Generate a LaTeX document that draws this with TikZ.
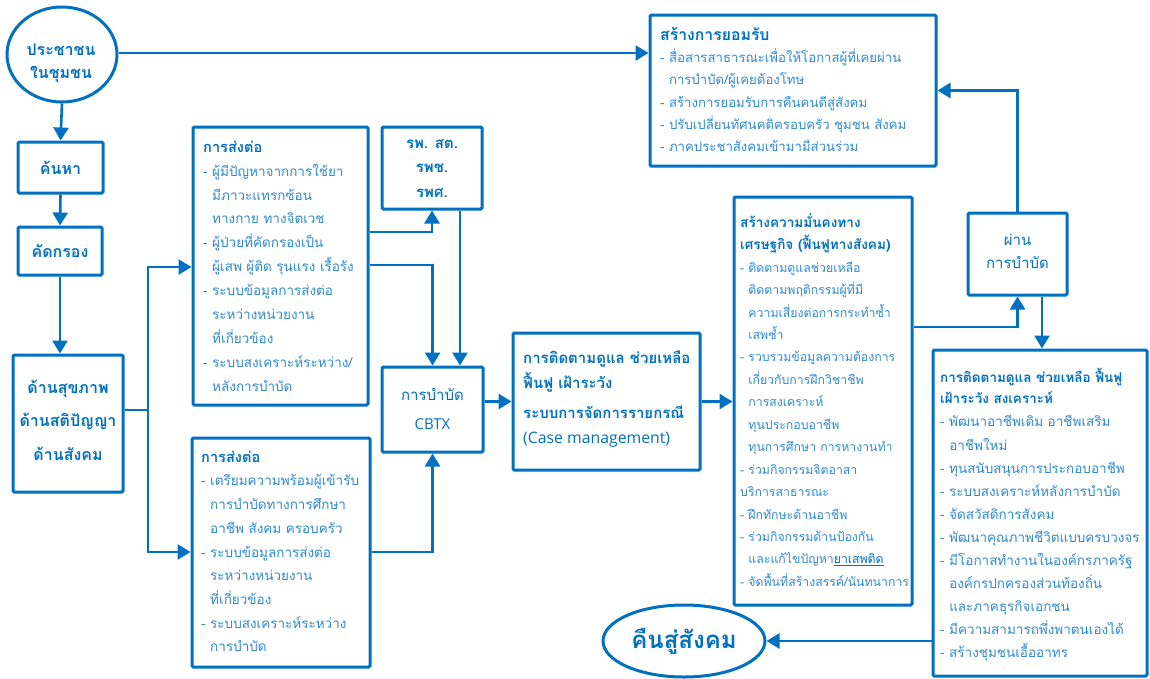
\documentclass[tikz,border=0pt]{standalone}
\usepackage{fontspec}
\setmainfont[Script=Thai]{Loma}
\newfontfamily\latinfont{Open Sans}
\usetikzlibrary{arrows.meta,fit,shapes.geometric}
\definecolor{flow}{RGB}{0,112,192}
\definecolor{ink}{RGB}{48,138,206}
% strut fixing the height of the first line of a text block
\newcommand\firstln{\rule{0pt}{18pt}}
% indent of a continued bullet line
\newcommand\bulletpad{\hphantom{-\ }}
% heading line of a box, optional size switch
\newcommand\hd[2][]{{\color{flow}\bfseries#1#2}}
\newcommand\bigsize{\fontsize{14.6}{20}\selectfont}
\begin{document}
\begin{tikzpicture}[x=1pt,y=-1pt,
  box/.style={draw=flow, line width=3pt, rounded corners=1.2pt, inner sep=0pt},
  oval/.style={draw=flow, line width=3pt, ellipse, inner sep=0pt},
  conn/.style={draw=flow, line width=2.6pt, -{Triangle[length=13pt,width=15pt]}},
  body/.style={anchor=north west, yshift=18pt, inner sep=0pt, align=left, text=ink,
    font=\fontsize{13.5}{#1}\selectfont},
  body/.default=23.5,
  label/.style={align=center, text=flow, font=\fontsize{16}{#1}\selectfont\bfseries},
  label/.default=24,
]
\useasboundingbox (0,0) rectangle (1150,678);

% ---------- left column ----------
\node[oval, minimum width=110pt, minimum height=95pt] (people) at (62,54.5) {};
\node[label=23, anchor=north, yshift=18pt, inner sep=0pt] (peopletext) at (61,55)
  {\firstln ประชาชน\\ในชุมชน};
\node[box, minimum width=85pt, minimum height=51pt, label] (find) at (60.5,167.5) {ค้นหา};
\node[box, minimum width=84pt, minimum height=48pt, label] (screen) at (60,251) {คัดกรอง};
\node[box, fit={(13,355) (123,492)}] (aspects) {};
\node[label=33.5, anchor=north, yshift=18pt, inner sep=0pt] (aspectstext) at (68,393)
  {\firstln ด้านสุขภาพ\\ด้านสติปัญญา\\ด้านสังคม};

% ---------- referral boxes ----------
\node[box, fit={(193,127) (368,405)}] (refA) {};
\node[body=23.9] (refAtext) at (203,152) {\firstln\hd[\bigsize]{การส่งต่อ}\\
- ผู้มีปัญหาจากการใช้ยา\\
\bulletpad มีภาวะแทรกซ้อน\\
\bulletpad ทางกาย ทางจิตเวช\\
- ผู้ป่วยที่คัดกรองเป็น\\
\bulletpad ผู้เสพ ผู้ติด รุนแรง เรื้อรัง\\
- ระบบข้อมูลการส่งต่อ\\
\bulletpad ระหว่างหน่วยงาน\\
\bulletpad ที่เกี่ยวข้อง\\
- ระบบสงเคราะห์ระหว่าง/\\
\bulletpad หลังการบำบัด};

\node[box, fit={(192,438) (370,667)}] (refB) {};
\node[body=23.7] (refBtext) at (201,462) {\firstln\hd[\bigsize]{การส่งต่อ}\\
- เตรียมความพร้อมผู้เข้ารับ\\
\bulletpad การบำบัดทางการศึกษา\\
\bulletpad อาชีพ สังคม ครอบครัว\\
- ระบบข้อมูลการส่งต่อ\\
\bulletpad ระหว่างหน่วยงาน\\
\bulletpad ที่เกี่ยวข้อง\\
- ระบบสงเคราะห์ระหว่าง\\
\bulletpad การบำบัด};

% ---------- hospitals and treatment ----------
\node[box, fit={(382,127) (482,209)}] (hosp) {};
\node[label=24.5, font=\fontsize{15}{24.5}\selectfont\bfseries, anchor=north, yshift=18pt,
      inner sep=0pt] (hosptext) at (432,148) {\firstln รพ. สต.\\รพช.\\รพศ.};

\node[box, fit={(382,367) (483,452)}] (cbtx) {};
\node[align=center, text=flow, anchor=north, yshift=18pt, inner sep=0pt,
      font=\fontsize{15}{29}\selectfont] (cbtxtext) at (432.5,400)
  {\firstln การบำบัด\\{\latinfont CBTX}};

% ---------- case management ----------
\node[box, fit={(513,333) (700,470)}] (case) {};
\node[anchor=north west, yshift=18pt, inner sep=0pt, align=left, text=flow,
      font=\fontsize{15}{25}\selectfont\bfseries] (casetext) at (523,363)
  {\firstln การติดตามดูแล ช่วยเหลือ\\ฟื้นฟู เฝ้าระวัง\\[5pt]ระบบการจัดการรายกรณี\\
   {\latinfont\mdseries\fontsize{15.8}{24}\selectfont (Case management)}};

% ---------- economic stability ----------
\node[box, fit={(734,197) (912,605)}] (econ) {};
\node[body=22.45, font=\fontsize{12.3}{22.45}\selectfont] (econtext) at (740,227)
{\firstln\hd[\fontsize{13.6}{20}\selectfont]{สร้างความมั่นคงทาง}\\
\hd[\fontsize{13.6}{20}\selectfont]{เศรษฐกิจ (ฟื้นฟูทางสังคม)}\\
- ติดตามดูแลช่วยเหลือ\\
\bulletpad ติดตามพฤติกรรมผู้ที่มี\\
\bulletpad ความเสี่ยงต่อการกระทำซ้ำ\\
\bulletpad เสพซ้ำ\\
- รวบรวมข้อมูลความต้องการ\\
\bulletpad เกี่ยวกับการฝึกวิชาชีพ\\
\bulletpad การสงเคราะห์\\
\bulletpad ทุนประกอบอาชีพ\\
\bulletpad ทุนการศึกษา การหางานทำ\\
- ร่วมกิจกรรมจิตอาสา\\
บริการสาธารณะ\\
- ฝึกทักษะด้านอาชีพ\\
- ร่วมกิจกรรมด้านป้องกัน\\
\bulletpad และแก้ไขปัญหา{\color{flow}\underline{ยาเสพติด}}\\
- จัดพื้นที่สร้างสรรค์/นันทนาการ};

% ---------- acceptance ----------
\node[box, fit={(650,15) (936,166)}] (accept) {};
\node[body=22.3, font=\fontsize{13.2}{22.3}\selectfont] (accepttext) at (660,40)
{\firstln\hd[\fontsize{15.8}{20}\selectfont]{สร้างการยอมรับ}\\
- สื่อสารสาธารณะเพื่อให้โอกาสผู้ที่เคยผ่าน\\
\bulletpad การบำบัด/ผู้เคยต้องโทษ\\
- สร้างการยอมรับการคืนคนดีสู่สังคม\\
- ปรับเปลี่ยนทัศนคติครอบครัว ชุมชน สังคม\\
- ภาคประชาสังคมเข้ามามีส่วนร่วม};

% ---------- passed treatment ----------
\node[box, fit={(968,213) (1067,295)}] (passed) {};
\node[align=center, text=flow, anchor=north, yshift=18pt, inner sep=0pt,
      font=\fontsize{15}{23}\selectfont] (passedtext) at (1017.5,245)
  {\firstln ผ่าน\\การบำบัด};

% ---------- follow-up and welfare ----------
\node[box, fit={(933,350) (1147,676)}] (welfare) {};
\node[body=23.1] (welfaretext) at (940,382)
{\firstln\hd{การติดตามดูแล ช่วยเหลือ ฟื้นฟู}\\[-1.5pt]
\hd{เฝ้าระวัง สงเคราะห์}\\
- พัฒนาอาชีพเดิม อาชีพเสริม\\
\bulletpad อาชีพใหม่\\
- ทุนสนับสนุนการประกอบอาชีพ\\
- ระบบสงเคราะห์หลังการบำบัด\\
- จัดสวัสดิการสังคม\\
- พัฒนาคุณภาพชีวิตแบบครบวงจร\\
- มีโอกาสทำงานในองค์กรภาครัฐ\\
\bulletpad องค์กรปกครองส่วนท้องถิ่น\\
\bulletpad และภาคธุรกิจเอกชน\\
- มีความสามารถพึ่งพาตนเองได้\\
- สร้างชุมชนเอื้ออาทร};

% ---------- return to society ----------
\node[oval, minimum width=162pt, minimum height=72pt, text=flow,
      font=\fontsize{24}{30}\selectfont\bfseries] (back) at (684,641) {คืนสู่สังคม};

% ---------- connectors ----------
\coordinate (split) at (148,410);
\draw[conn] (people.east |- 0,53) -- (accept.west |- 0,53);
\draw[conn] (people.south) -- (find.north);
\draw[conn] (find.south) -- (screen.north);
\draw[conn] (screen.south) -- (aspects.north -| screen.south);
\draw[draw=flow, line width=2.6pt] (aspects.east |- split) -- (split);
\draw[conn] (split) |- (refA.west |- 0,267);
\draw[conn] (split) |- (refB.west |- 0,552);
\draw[conn] (refA.east |- 0,232) -| (hosp.south);
\draw[conn] (refA.east |- 0,265) -| (cbtx.north);
\draw[conn] (hosp.south -| 460,0) -- (cbtx.north -| 460,0);
\draw[conn] (refB.east |- 0,552) -| (cbtx.south);
\draw[conn] (cbtx.east |- case.west) -- (case.west);
\draw[conn] (case.east) -- (econ.west |- case.east);
\draw[conn] (econ.east |- 0,327) -| (passed.south);
\draw[conn] (passed.north) |- (accept.east);
\draw[conn] (passed.south -| 1042,0) -- (welfare.north -| 1042,0);
\draw[conn] (welfare.west |- back.east) -- (back.east);
\end{tikzpicture}
\end{document}
